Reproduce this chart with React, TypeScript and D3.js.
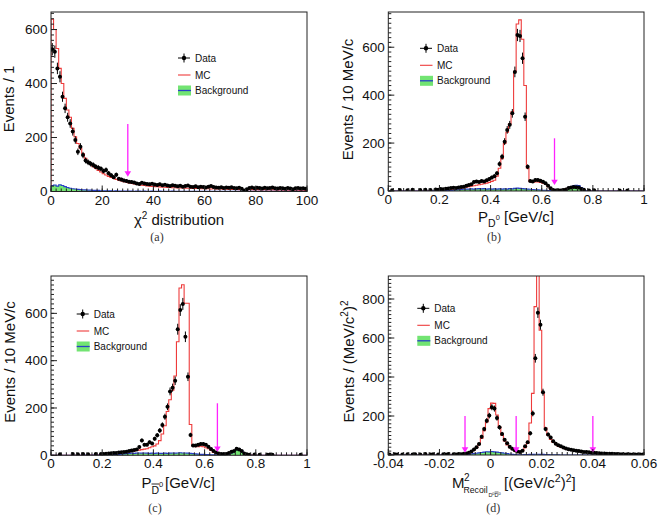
import React from "react";
import * as d3 from "d3";

// ---------- Panel (a): chi2 distribution, bins of width 1 from 0 to 100
const chi2Data = [
  527, 518, 456, 425, 351, 308, 275, 252, 222, 191,
  147, 166, 135, 115, 108, 103, 98, 92, 88, 84,
  76, 80, 68, 60, 53, 62, 47, 44, 41, 39,
  36, 35, 33, 30, 28, 32, 30, 28, 27, 29,
  26, 24, 27, 23, 25, 22, 20, 23, 21, 19,
  21, 18, 20, 22, 18, 17, 19, 16, 18, 17,
  15, 18, 20, 17, 15, 14, 16, 13, 15, 14,
  16, 13, 12, 14, 10, 4, 8, 13, 15, 12,
  14, 13, 11, 14, 12, 13, 15, 12, 11, 13,
  12, 10, 13, 11, 8, 12, 13, 11, 12, 10,
];
const chi2MC = [
  638, 600, 530, 456, 400, 345, 302, 275, 234, 203,
  178, 160, 141, 123, 110, 100, 92, 85, 78, 72,
  66, 61, 56, 52, 48, 45, 42, 39, 36, 34,
  32, 30, 28, 26, 25, 23, 22, 21, 20, 19,
  18, 18, 17, 16, 16, 15, 15, 14, 14, 13,
  13, 13, 12, 12, 12, 11, 11, 11, 10, 10,
  10, 10, 9, 10, 9, 9, 9, 8, 9, 8,
  8, 8, 8, 7, 8, 7, 7, 7, 7, 6,
  7, 6, 6, 7, 6, 6, 6, 6, 5, 6,
  5, 6, 5, 5, 5, 5, 5, 4, 5, 4,
];
const chi2Bkg = [
  22, 24, 20, 25, 22, 18, 15, 12, 10, 9,
  8, 7, 6, 6, 5, 5, 4, 4, 4, 3,
  3, 3, 3, 3, 2, 3, 2, 2, 2, 2,
  2, 2, 1, 2, 2, 1, 2, 1, 1, 2,
  1, 1, 2, 1, 1, 1, 1, 2, 1, 1,
  1, 1, 1, 1, 1, 1, 1, 1, 1, 1,
  1, 1, 1, 1, 1, 1, 1, 1, 1, 1,
  1, 1, 1, 1, 1, 1, 1, 1, 1, 1,
  1, 1, 1, 1, 1, 1, 1, 1, 1, 1,
  1, 1, 1, 1, 1, 1, 1, 1, 1, 1,
];

// ---------- Panel (b): P(D0), 10 MeV/c bins from 0 to 1
const pD0Data = [
  0, 3, 0, 0, 4, 0, 0, 3, 0, 5,
  0, 0, 4, 0, 5, 0, 4, 0, 6, 5,
  8, 7, 9, 10, 12, 14, 13, 15, 17, 18,
  22, 25, 28, 38, 40, 38, 42, 40, 45, 50,
  56, 62, 74, 113, 143, 206, 255, 276, 324, 497,
  651, 647, 554, 310, 101, 42, 40, 46, 46, 43,
  39, 32, 22, 11, 4, 2, 3, 2, 4, 6,
  12, 15, 17, 16, 15, 8, 5, 0, 2, 0,
  3, 0, 0, 0, 0, 0, 0, 0, 0, 0,
  2, 0, 0, 2, 0, 0, 0, 0, 0, 0,
];
const pD0MC = [
  0, 0, 0, 0, 0, 0, 0, 0, 0, 0,
  0, 0, 1, 0, 1, 1, 1, 2, 2, 3,
  3, 4, 5, 6, 7, 8, 9, 10, 12, 14,
  16, 18, 20, 22, 24, 26, 28, 30, 33, 36,
  40, 45, 62, 95, 135, 198, 245, 280, 330, 500,
  697, 714, 633, 440, 95, 40, 36, 38, 38, 36,
  33, 28, 18, 8, 4, 3, 3, 4, 6, 9,
  13, 16, 18, 18, 15, 9, 4, 2, 1, 1,
  0, 0, 0, 0, 0, 0, 0, 0, 0, 0,
  0, 0, 0, 0, 0, 0, 0, 0, 0, 0,
];
const pD0Bkg = [
  0, 0, 0, 0, 0, 0, 0, 0, 0, 0,
  0, 0, 0, 0, 1, 0, 0, 1, 0, 1,
  1, 1, 2, 2, 2, 3, 4, 5, 6, 7,
  8, 8, 9, 8, 9, 10, 9, 10, 8, 9,
  8, 9, 8, 9, 8, 9, 8, 10, 9, 11,
  12, 11, 10, 9, 8, 7, 6, 5, 5, 4,
  3, 3, 2, 2, 1, 1, 1, 2, 3, 6,
  12, 18, 22, 24, 23, 14, 4, 1, 0, 0,
  0, 0, 0, 0, 0, 0, 0, 0, 0, 0,
  0, 0, 0, 0, 0, 0, 0, 0, 0, 0,
];

// ---------- Panel (c): P(D0bar), 10 MeV/c bins from 0 to 1
const pD0barData = [
  0, 0, 0, 4, 0, 0, 0, 0, 5, 0,
  4, 0, 5, 0, 4, 0, 0, 6, 0, 5,
  6, 7, 8, 9, 10, 10, 12, 13, 14, 15,
  18, 20, 22, 25, 35, 63, 45, 45, 55, 50,
  70, 85, 105, 128, 163, 205, 270, 286, 315, 533,
  614, 640, 501, 332, 86, 41, 41, 45, 48, 48,
  45, 36, 27, 18, 12, 8, 6, 5, 6, 10,
  15, 18, 28, 25, 18, 8, 4, 2, 0, 3,
  0, 2, 0, 0, 2, 3, 2, 0, 0, 0,
  0, 0, 0, 0, 0, 0, 0, 2, 0, 0,
];
const pD0barMC = [
  0, 0, 0, 0, 0, 0, 0, 0, 0, 0,
  0, 0, 1, 0, 1, 1, 1, 1, 2, 2,
  3, 4, 5, 6, 7, 8, 9, 10, 11, 12,
  14, 16, 18, 20, 22, 24, 26, 28, 32, 36,
  40, 48, 62, 90, 125, 185, 235, 275, 335, 480,
  707, 721, 643, 643, 130, 40, 36, 36, 38, 36,
  32, 28, 20, 12, 8, 5, 4, 4, 5, 8,
  14, 20, 24, 22, 16, 8, 3, 1, 1, 0,
  0, 0, 0, 0, 0, 0, 0, 0, 0, 0,
  0, 0, 0, 0, 0, 0, 0, 0, 0, 0,
];
const pD0barBkg = [
  0, 0, 0, 0, 0, 0, 0, 0, 0, 0,
  0, 0, 0, 1, 0, 0, 1, 0, 1, 0,
  1, 1, 2, 2, 3, 3, 4, 5, 6, 7,
  8, 9, 8, 9, 10, 9, 10, 9, 8, 9,
  8, 9, 8, 8, 9, 8, 9, 10, 9, 10,
  11, 10, 10, 9, 8, 7, 6, 5, 4, 4,
  3, 3, 2, 2, 2, 1, 1, 2, 3, 5,
  10, 18, 24, 26, 20, 12, 4, 1, 0, 0,
  0, 0, 0, 0, 0, 0, 0, 0, 0, 0,
  0, 0, 0, 0, 0, 0, 0, 0, 0, 0,
];

// ---------- Panel (d): M2 recoil, bins of 0.001 from -0.04 to 0.06
const m2Data = [
  3, 0, 4, 2, 0, 3, 0, 4, 0, 3,
  4, 0, 3, 0, 5, 0, 3, 4, 0, 3,
  0, 4, 3, 5, 0, 4, 3, 5, 4, 6,
  8, 12, 18, 28, 40, 56, 94, 133, 176, 202,
  245, 238, 190, 142, 108, 78, 60, 42, 32, 24,
  18, 16, 22, 45, 65, 111, 213, 496, 730, 668,
  322, 133, 105, 90, 70, 58, 50, 45, 38, 33,
  30, 27, 25, 22, 20, 18, 16, 15, 14, 12,
  11, 10, 9, 8, 8, 7, 6, 6, 5, 5,
  4, 4, 3, 4, 3, 3, 2, 3, 2, 3,
];
const m2MC = [
  0, 0, 0, 0, 0, 0, 0, 0, 0, 0,
  0, 0, 0, 0, 0, 0, 0, 0, 0, 0,
  0, 0, 0, 0, 1, 1, 1, 2, 3, 4,
  6, 10, 16, 25, 38, 55, 85, 125, 170, 238,
  266, 265, 205, 145, 102, 72, 52, 38, 28, 20,
  14, 12, 22, 38, 60, 164, 316, 761, 950, 640,
  320, 140, 100, 80, 65, 55, 45, 40, 35, 30,
  27, 24, 22, 20, 18, 16, 15, 14, 13, 12,
  11, 10, 9, 9, 8, 7, 7, 6, 6, 5,
  5, 4, 4, 4, 3, 3, 3, 3, 2, 2,
];
const m2Bkg = [
  0, 0, 0, 0, 0, 0, 0, 0, 0, 0,
  0, 0, 0, 0, 0, 0, 0, 0, 0, 0,
  0, 0, 0, 0, 0, 0, 0, 0, 0, 1,
  2, 3, 5, 7, 9, 11, 13, 15, 17, 16,
  18, 16, 15, 13, 11, 9, 7, 5, 3, 2,
  1, 1, 1, 2, 2, 3, 3, 4, 4, 3,
  3, 2, 2, 1, 1, 1, 1, 0, 0, 0,
  0, 0, 0, 0, 0, 0, 0, 0, 0, 0,
  0, 0, 0, 0, 0, 0, 0, 0, 0, 0,
  0, 0, 0, 0, 0, 0, 0, 0, 0, 0,
];

// ---------- ticks, labels, cuts
const chi2Ticks = [0, 20, 40, 60, 80, 100];
const chi2TickLabels = ["0", "20", "40", "60", "80", "100"];
const pTicks = [0, 0.2, 0.4, 0.6, 0.8, 1];
const pTickLabels = ["0", "0.2", "0.4", "0.6", "0.8", "1"];
const m2Ticks = [-0.04, -0.02, 0, 0.02, 0.04, 0.06];
const m2TickLabels = ["-0.04", "-0.02", "0", "0.02", "0.04", "0.06"];
const yTicks600 = [0, 200, 400, 600];
const yTicks800 = [0, 200, 400, 600, 800];
const legendLabels = ["Data", "MC", "Background"];
const cutsA = [30];
const cutsB = [0.65];
const cutsC = [0.65];
const cutsD = [-0.01, 0.01, 0.04];

const FONT = "'Liberation Sans', Arial, Helvetica, sans-serif";
const RED = "#ee3b3b";
const BLUE = "#2a3fc8";
const GREEN = "#72e472";
const MAGENTA = "#ff22ff";
const INK = "#111";

interface Cfg {
  id: string;
  left: number; right: number; top: number; bottom: number;
  xMin: number; xMax: number; nBins: number; yMax: number;
  data: number[]; mc: number[]; bkg: number[];
  xTicks: number[]; xLabels: string[]; xMinor: number;
  yTicks: number[]; yMinor: number;
  cuts: number[]; cutTop: number; cutTip: number;
  legX: number; legY: number;
  xTitle: React.ReactNode; xTitleX: number; xTitleY: number; xTitleAnchor: string;
  xTitleExtra?: React.ReactNode;
  yTitle: React.ReactNode; yTitleX: number; yTitleY: number;
  caption: string; capX: number; capY: number;
}

function Panel({ c }: { c: Cfg }) {
  const x = d3.scaleLinear().domain([c.xMin, c.xMax]).range([c.left, c.right]);
  const y = d3.scaleLinear().domain([0, c.yMax]).range([c.bottom, c.top]);
  const bw = (c.xMax - c.xMin) / c.nBins;
  const edge = (i: number) => c.xMin + i * bw;

  const histPts = (vals: number[]) => {
    const pts: [number, number][] = [[edge(0), 0]];
    vals.forEach((v, i) => pts.push([edge(i), v]));
    pts.push([edge(vals.length), vals[vals.length - 1]]);
    pts.push([edge(vals.length), 0]);
    return pts;
  };
  const line = d3.line<[number, number]>().x((p) => x(p[0])).y((p) => y(p[1])).curve(d3.curveStepAfter);
  const areaPts: [number, number][] = c.bkg.map((v, i) => [edge(i), v] as [number, number]);
  areaPts.push([edge(c.bkg.length), c.bkg[c.bkg.length - 1]]);
  const area = d3.area<[number, number]>().x((p) => x(p[0])).y0(y(0)).y1((p) => y(p[1])).curve(d3.curveStepAfter);

  const nxMinor = Math.round((c.xMax - c.xMin) / c.xMinor);
  const xMinorTicks = d3.range(nxMinor + 1).map((k) => c.xMin + k * c.xMinor);
  const nyMinor = Math.floor(c.yMax / c.yMinor);
  const yMinorTicks = d3.range(nyMinor + 1).map((k) => k * c.yMinor);

  const clipId = "clip-" + c.id;
  const rows = [c.legY, c.legY + 17, c.legY + 32.5];

  return (
    <g fontFamily={FONT}>
      <defs>
        <clipPath id={clipId}>
          <rect x={c.left} y={c.top} width={c.right - c.left} height={c.bottom - c.top} />
        </clipPath>
      </defs>
      <g clipPath={`url(#${clipId})`}>
        <path d={line(histPts(c.mc)) || ""} fill="none" stroke={RED} strokeWidth={1.1} />
        <path d={area(areaPts) || ""} fill={GREEN} stroke="none" />
        <path d={line(histPts(c.bkg)) || ""} fill="none" stroke={BLUE} strokeWidth={1.1} />
        {c.data.map((v, i) => {
          if (v <= 0) return null;
          const cx = x(edge(i) + bw / 2);
          const e = Math.sqrt(v);
          return (
            <g key={i}>
              <line x1={x(edge(i))} x2={x(edge(i + 1))} y1={y(v)} y2={y(v)} stroke="#000" strokeWidth={1} />
              <line x1={cx} x2={cx} y1={y(v - e)} y2={y(v + e)} stroke="#000" strokeWidth={1} />
              <circle cx={cx} cy={y(v)} r={2} fill="#000" />
            </g>
          );
        })}
      </g>
      {/* cut arrows */}
      {c.cuts.map((v, i) => {
        const ax = x(v);
        const tip = y(c.cutTip);
        return (
          <g key={i}>
            <line x1={ax} x2={ax} y1={y(c.cutTop)} y2={tip - 4} stroke={MAGENTA} strokeWidth={1.3} />
            <path d={`M${ax - 3.3},${tip - 5.3} L${ax + 3.3},${tip - 5.3} L${ax},${tip} Z`} fill={MAGENTA} />
          </g>
        );
      })}
      {/* frame */}
      <rect x={c.left} y={c.top} width={c.right - c.left} height={c.bottom - c.top} fill="none" stroke="#222" strokeWidth={1} />
      {/* x ticks */}
      {xMinorTicks.map((v, i) => (
        <line key={"xm" + i} x1={x(v)} x2={x(v)} y1={c.bottom} y2={c.bottom - 3} stroke="#222" strokeWidth={1} />
      ))}
      {c.xTicks.map((v, i) => (
        <g key={"xt" + i}>
          <line x1={x(v)} x2={x(v)} y1={c.bottom} y2={c.bottom - 6} stroke="#222" strokeWidth={1} />
          <text x={x(v)} y={c.bottom + 13} fontSize={13.5} textAnchor="middle" fill={INK}>{c.xLabels[i]}</text>
        </g>
      ))}
      {/* y ticks */}
      {yMinorTicks.map((v, i) => (
        <line key={"ym" + i} x1={c.left} x2={c.left + 3} y1={y(v)} y2={y(v)} stroke="#222" strokeWidth={1} />
      ))}
      {c.yTicks.map((v, i) => (
        <g key={"yt" + i}>
          <line x1={c.left} x2={c.left + 6} y1={y(v)} y2={y(v)} stroke="#222" strokeWidth={1} />
          <text x={c.left - 3.5} y={y(v) + 4.6} fontSize={13.5} textAnchor="end" fill={INK}>{String(v)}</text>
        </g>
      ))}
      {/* axis titles */}
      <text x={c.xTitleX} y={c.xTitleY} fontSize={15} textAnchor={c.xTitleAnchor} fill={INK}>{c.xTitle}</text>
      {c.xTitleExtra}
      <text transform={`translate(${c.yTitleX},${c.yTitleY}) rotate(-90)`} fontSize={15} textAnchor="middle" fill={INK}>{c.yTitle}</text>
      {/* legend */}
      <g>
        <line x1={c.legX} x2={c.legX + 12} y1={rows[0]} y2={rows[0]} stroke="#000" />
        <line x1={c.legX + 6} x2={c.legX + 6} y1={rows[0] - 4.5} y2={rows[0] + 4.5} stroke="#000" />
        <circle cx={c.legX + 6} cy={rows[0]} r={2.2} fill="#000" />
        <line x1={c.legX} x2={c.legX + 12.5} y1={rows[1]} y2={rows[1]} stroke={RED} strokeWidth={1.1} />
        <rect x={c.legX} y={rows[2] - 5} width={13} height={10} fill={GREEN} />
        <line x1={c.legX} x2={c.legX + 13} y1={rows[2]} y2={rows[2]} stroke={BLUE} strokeWidth={1.3} />
        {legendLabels.map((t, i) => (
          <text key={t} x={c.legX + 17} y={rows[i] + 3.6} fontSize={10} fill={INK}>{t}</text>
        ))}
      </g>
      {/* caption */}
      <text x={c.capX} y={c.capY} fontSize={12} textAnchor="middle" fontFamily="'Liberation Serif', 'DejaVu Serif', serif" fill="#333">{c.caption}</text>
    </g>
  );
}

const panels: Cfg[] = [
  {
    id: "a", left: 51, right: 307, top: 12, bottom: 191.5,
    xMin: 0, xMax: 100, nBins: 100, yMax: 665,
    data: chi2Data, mc: chi2MC, bkg: chi2Bkg,
    xTicks: chi2Ticks, xLabels: chi2TickLabels, xMinor: 2,
    yTicks: yTicks600, yMinor: 20,
    cuts: cutsA, cutTop: 250, cutTip: 55,
    legX: 178, legY: 58,
    xTitle: (<><tspan>χ</tspan><tspan dy={-6} fontSize={10}>2</tspan><tspan dy={6}> distribution</tspan></>),
    xTitleX: 179, xTitleY: 224.5, xTitleAnchor: "middle",
    yTitle: "Events / 1", yTitleX: 14, yTitleY: 99,
    caption: "(a)", capX: 157, capY: 241,
  },
  {
    id: "b", left: 388.3, right: 644, top: 12, bottom: 191,
    xMin: 0, xMax: 1, nBins: 100, yMax: 747,
    data: pD0Data, mc: pD0MC, bkg: pD0Bkg,
    xTicks: pTicks, xLabels: pTickLabels, xMinor: 0.02,
    yTicks: yTicks600, yMinor: 20,
    cuts: cutsB, cutTop: 220, cutTip: 25,
    legX: 420, legY: 48.3,
    xTitle: (<><tspan>P</tspan><tspan dy={4.5} fontSize={10.5}>D</tspan><tspan dy={-6.5} fontSize={7.5}>0</tspan><tspan dy={2}> [GeV/c]</tspan></>),
    xTitleX: 516, xTitleY: 222.3, xTitleAnchor: "middle",
    yTitle: "Events / 10 MeV/c", yTitleX: 353, yTitleY: 99.5,
    caption: "(b)", capX: 494, capY: 241,
  },
  {
    id: "c", left: 51, right: 307, top: 276, bottom: 455.3,
    xMin: 0, xMax: 1, nBins: 100, yMax: 758,
    data: pD0barData, mc: pD0barMC, bkg: pD0barBkg,
    xTicks: pTicks, xLabels: pTickLabels, xMinor: 0.02,
    yTicks: yTicks600, yMinor: 20,
    cuts: cutsC, cutTop: 220, cutTip: 15,
    legX: 76.7, legY: 314,
    xTitle: (
      <>
        <tspan x={141.5} y={488}>P</tspan>
        <tspan x={151.5} y={493.5} fontSize={10.5}>D</tspan>
        <tspan x={159} y={486.5} fontSize={7.5}>0</tspan>
        <tspan x={165} y={488}>[GeV/c]</tspan>
      </>
    ),
    xTitleExtra: <line x1={151.5} x2={159} y1={484} y2={484} stroke={INK} strokeWidth={0.9} />,
    xTitleX: 141.5, xTitleY: 488, xTitleAnchor: "start",
    yTitle: "Events / 10 MeV/c", yTitleX: 15, yTitleY: 362,
    caption: "(c)", capX: 155, capY: 512,
  },
  {
    id: "d", left: 388.3, right: 644, top: 276, bottom: 455,
    xMin: -0.04, xMax: 0.06, nBins: 100, yMax: 918,
    data: m2Data, mc: m2MC, bkg: m2Bkg,
    xTicks: m2Ticks, xLabels: m2TickLabels, xMinor: 0.002,
    yTicks: yTicks800, yMinor: 20,
    cuts: cutsD, cutTop: 200, cutTip: 12,
    legX: 417.3, legY: 308.3,
    xTitle: (
      <>
        <tspan x={452} y={488}>M</tspan>
        <tspan x={464} y={481} fontSize={10}>2</tspan>
        <tspan x={463.5} y={493} fontSize={8.7}>Recoil</tspan>
        <tspan x={488.5} y={496.5} fontSize={5.5}>D</tspan>
        <tspan x={492.3} y={494.5} fontSize={4}>0</tspan>
        <tspan x={494.6} y={496.5} fontSize={5.5}>D</tspan>
        <tspan x={498.4} y={494.5} fontSize={4}>0</tspan>
        <tspan x={504} y={488}>[(GeV/c</tspan>
        <tspan dy={-6} fontSize={10.5}>2</tspan>
        <tspan dy={6}>)</tspan>
        <tspan dy={-6} fontSize={10.5}>2</tspan>
        <tspan dy={6}>]</tspan>
      </>
    ),
    xTitleExtra: <line x1={494.6} x2={498.5} y1={492} y2={492} stroke={INK} strokeWidth={0.6} />,
    xTitleX: 452, xTitleY: 488, xTitleAnchor: "start",
    yTitle: (<><tspan>Events / (MeV/c</tspan><tspan dy={-6} fontSize={10}>2</tspan><tspan dy={6}>)</tspan><tspan dy={-6} fontSize={10}>2</tspan></>),
    yTitleX: 354, yTitleY: 361.5,
    caption: "(d)", capX: 493.3, capY: 512,
  },
];

export default function App() {
  return (
    <svg width={659} height={526} viewBox="0 0 659 526" style={{ position: "absolute", left: 0, top: 0, display: "block", background: "#fff" }}>
      <rect x={0} y={0} width={659} height={526} fill="#fff" />
      {panels.map((p) => (
        <Panel key={p.id} c={p} />
      ))}
    </svg>
  );
}
